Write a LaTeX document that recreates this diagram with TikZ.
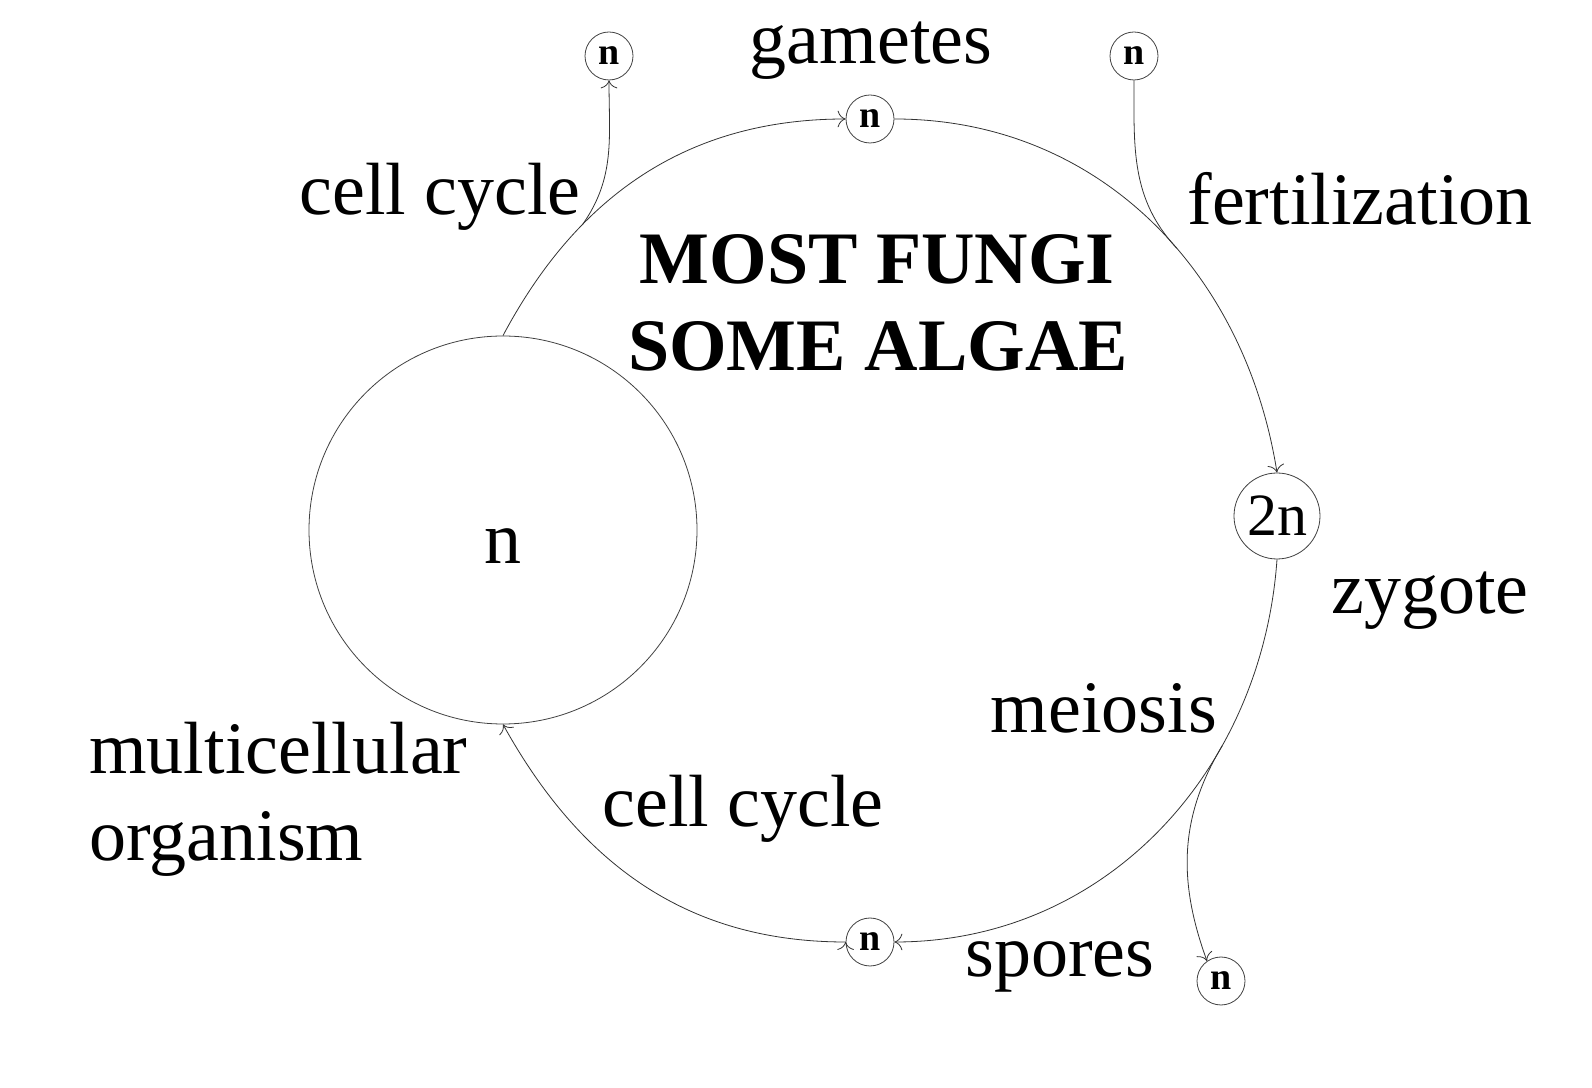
\documentclass[tikz,border=0pt]{standalone}
\usepackage{fontspec}
\setmainfont{Liberation Serif}
\usepackage{tikz}
\usetikzlibrary{calc, arrows.meta}

\begin{document}
\begin{tikzpicture}[x=0.5pt, y=0.5pt, >={To[scale=1.6]}, thin,
        cell/.style={circle, draw=black!75, inner sep=0pt, minimum size=24pt, font=\fontsize{19}{19}\selectfont\bfseries},
        word/.style={anchor=base, inner sep=0pt, font=\fontsize{37}{43.5}\selectfont}]
        \useasboundingbox (0,0) rectangle (1592,1088);

        \node[circle, draw=black!75, minimum size=194pt, inner sep=0pt, text height=34pt, text depth=0pt, font=\fontsize{37}{37}\selectfont] (org) at (503,558) {n};
        \node[cell] (gtop) at (609,1032) {n};
        \node[cell] (gam) at (870,969) {n};
        \node[cell] (ftop) at (1134,1032) {n};
        \node[circle, draw=black!75, minimum size=43pt, inner sep=0pt, font=\fontsize{30}{30}\selectfont] (zyg) at (1277,572) {2n};
        \node[cell] (spo) at (870,146) {n};
        \node[cell] (sout) at (1221,107) {n};

        \node[word] (gamtxt) at (871,1024) {gametes};
        \node[word] (cc1) at (440,873) {cell cycle};
        \node[word] (fert) at (1360,863) {fertilization};
        \node[word, font=\fontsize{37}{43.5}\selectfont\bfseries] (fungi) at (877,804) {MOST FUNGI};
        \node[word, font=\fontsize{37}{43.5}\selectfont\bfseries] (algae) at (878,717) {SOME ALGAE};
        \node[word] (zygtxt) at (1430,474) {zygote};
        \node[word] (mei) at (1104,355) {meiosis};
        \node[word, anchor=base west, align=left] (multi) at (89,227) {multicellular\\organism};
        \node[word] (cc2) at (743,261) {cell cycle};
        \node[word] (spotxt) at (1060,111) {spores};

        \path[->, draw=black!80]
        (org.north) edge[out=62, in=180] coordinate[pos=0.31] (b1) (gam.west)
        (gam.east) edge[out=0, in=99] coordinate[pos=0.57] (b2) (zyg.north)
        (zyg.south) edge[out=-94, in=0] coordinate[pos=0.32] (b3) (spo.east)
        (spo.west) edge[out=180, in=-61] (org.south);

        \draw[->, black!80] (b1) to[out=55, in=-90] (gtop.south);
        \draw[black!80] (ftop.south) to[out=-90, in=133] (b2);
        \draw[->, black!80] (b3) to[out=-121, in=110] (sout.125);
\end{tikzpicture}
\end{document}
